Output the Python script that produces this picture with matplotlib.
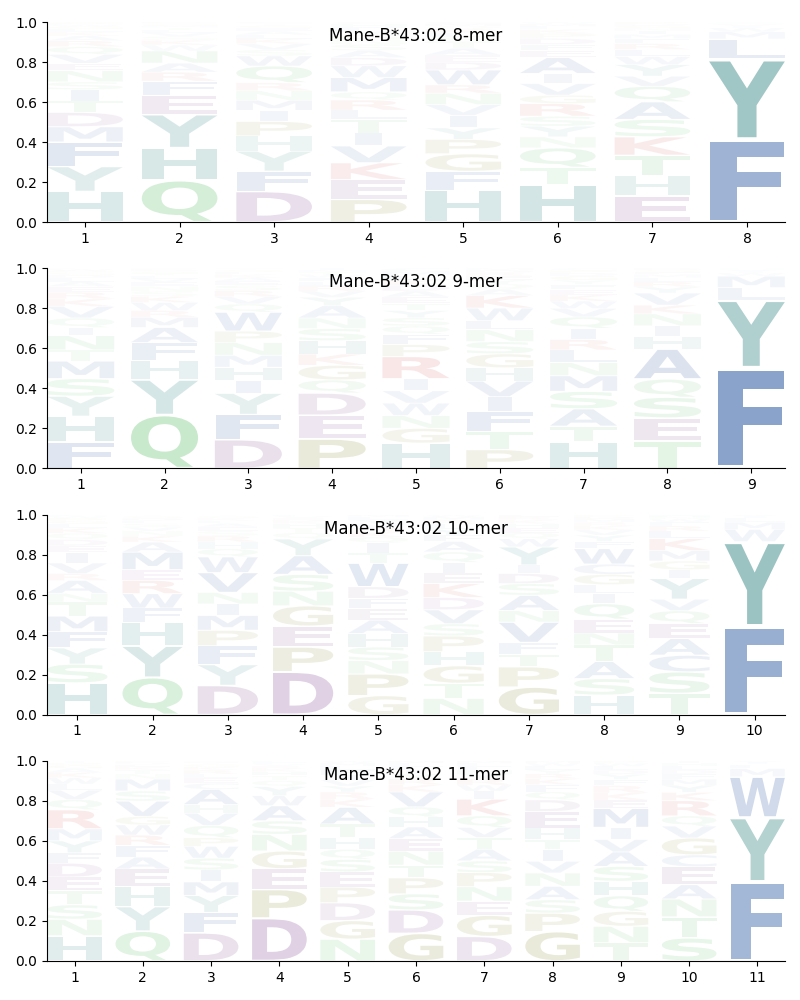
import matplotlib
matplotlib.use("Agg")
import matplotlib.pyplot as plt
from matplotlib.textpath import TextPath
from matplotlib.font_manager import FontProperties
from matplotlib.patches import PathPatch
from matplotlib.transforms import Affine2D

# letter heights per position, listed bottom -> top as seen in the logo
mer8 = [
    [("H", .157), ("Y", .128), ("F", .125), ("M", .078), ("D", .073), ("T", .058), ("I", .058), ("S", .040), ("N", .058), ("E", .037),
     ("V", .045), ("Q", .040), ("R", .030), ("A", .025), ("K", .020), ("L", .015), ("G", .013), ("W", .010), ("P", .008), ("C", .005)],
    [("Q", .220), ("H", .170), ("Y", .175), ("E", .100), ("F", .075), ("R", .047), ("A", .047), ("N", .065), ("W", .030), ("K", .025),
     ("S", .020), ("V", .020), ("L", .015), ("T", .012), ("M", .010), ("G", .008), ("P", .006), ("D", .005)],
    [("D", .153), ("F", .100), ("Y", .100), ("H", .075), ("P", .072), ("I", .055), ("M", .050), ("N", .047), ("R", .040), ("Q", .083),
     ("W", .050), ("S", .030), ("V", .030), ("K", .025), ("L", .020), ("A", .018), ("E", .015), ("G", .012), ("T", .010), ("C", .008)],
    [("P", .112), ("E", .097), ("K", .083), ("V", .083), ("I", .063), ("T", .067), ("L", .045), ("R", .050), ("Q", .040), ("M", .070),
     ("W", .058), ("D", .040), ("A", .035), ("S", .030), ("N", .025), ("G", .022), ("Y", .020), ("F", .018), ("H", .015), ("C", .010)],
    [("H", .162), ("F", .095), ("G", .088), ("P", .073), ("Y", .058), ("I", .062), ("V", .055), ("N", .058), ("R", .042), ("W", .075),
     ("D", .040), ("E", .035), ("A", .035), ("T", .030), ("S", .025), ("L", .022), ("K", .020), ("Q", .015), ("M", .012), ("C", .008)],
    [("H", .187), ("T", .087), ("Q", .097), ("N", .055), ("Y", .053), ("S", .050), ("R", .063), ("G", .042), ("V", .058), ("I", .050),
     ("A", .080), ("E", .035), ("F", .030), ("D", .030), ("P", .025), ("K", .020), ("L", .015), ("M", .012), ("W", .010)],
    [("E", .132), ("H", .100), ("T", .103), ("K", .092), ("S", .087), ("A", .088), ("Q", .078), ("V", .050), ("Y", .058), ("W", .040),
     ("L", .035), ("R", .030), ("F", .025), ("M", .020), ("I", .018), ("N", .015), ("G", .012), ("D", .010), ("P", .008)],
    [("F", .410), ("Y", .400), ("L", .100), ("M", .035), ("W", .020), ("I", .010), ("V", .008), ("H", .006), ("A", .005)],
]

mer9 = [
    [("F", .140), ("H", .133), ("Y", .105), ("S", .092), ("M", .092), ("T", .058), ("N", .075), ("I", .042), ("Q", .050), ("V", .060),
     ("K", .040), ("R", .035), ("E", .030), ("A", .025), ("L", .020), ("D", .015), ("G", .012), ("P", .010), ("W", .008), ("C", .005)],
    [("Q", .265), ("Y", .173), ("H", .095), ("F", .088), ("A", .075), ("M", .050), ("R", .033), ("W", .040), ("K", .030), ("S", .025),
     ("N", .025), ("E", .020), ("V", .018), ("L", .015), ("T", .012), ("G", .010), ("D", .008), ("P", .006)],
    [("D", .140), ("F", .122), ("Y", .103), ("I", .063), ("H", .063), ("M", .058), ("N", .062), ("P", .055), ("W", .092), ("Q", .040),
     ("V", .035), ("R", .030), ("S", .025), ("E", .020), ("A", .018), ("K", .015), ("L", .012), ("G", .010), ("T", .008)],
    [("P", .140), ("E", .113), ("D", .105), ("Q", .062), ("G", .070), ("K", .053), ("H", .063), ("S", .058), ("N", .050), ("A", .058),
     ("Y", .040), ("V", .030), ("R", .025), ("L", .020), ("F", .018), ("W", .015), ("T", .012), ("M", .010), ("I", .008)],
    [("H", .123), ("G", .072), ("N", .062), ("W", .060), ("V", .060), ("I", .058), ("R", .108), ("P", .058), ("F", .050), ("Q", .040),
     ("S", .040), ("Y", .035), ("T", .035), ("E", .030), ("A", .030), ("D", .028), ("K", .025), ("L", .022), ("M", .020), ("C", .015)],
    [("P", .090), ("T", .088), ("F", .092), ("I", .072), ("V", .075), ("H", .063), ("G", .067), ("S", .058), ("N", .058), ("L", .042),
     ("W", .060), ("K", .060), ("A", .030), ("Q", .025), ("Y", .020), ("E", .018), ("R", .015), ("D", .012), ("M", .010)],
    [("H", .127), ("T", .075), ("A", .083), ("S", .083), ("M", .075), ("N", .063), ("L", .060), ("R", .050), ("I", .053), ("Q", .055),
     ("V", .040), ("W", .035), ("K", .030), ("E", .025), ("F", .025), ("Y", .020), ("G", .020), ("D", .015), ("P", .012), ("C", .010)],
    [("T", .132), ("E", .112), ("S", .100), ("Q", .088), ("A", .145), ("H", .062), ("I", .050), ("N", .058), ("K", .042), ("V", .058),
     ("Y", .030), ("R", .025), ("L", .020), ("M", .015), ("F", .012), ("G", .010), ("D", .008)],
    [("F", .500), ("Y", .337), ("L", .062), ("M", .057), ("W", .015), ("I", .010), ("V", .008), ("H", .006)],
]

mer10 = [
    [("H", .153), ("S", .090), ("Y", .078), ("F", .078), ("M", .075), ("T", .067), ("N", .042), ("A", .062), ("R", .033), ("V", .050),
     ("I", .050), ("E", .033), ("D", .030), ("Q", .030), ("K", .025), ("L", .020), ("G", .015), ("P", .012), ("W", .010), ("C", .008)],
    [("Q", .187), ("Y", .157), ("H", .117), ("F", .073), ("W", .072), ("R", .067), ("E", .053), ("M", .088), ("A", .050), ("K", .030),
     ("N", .025), ("V", .020), ("S", .018), ("L", .015), ("D", .012), ("G", .010), ("T", .008)],
    [("D", .148), ("Y", .105), ("F", .095), ("P", .078), ("M", .075), ("I", .058), ("N", .058), ("V", .100), ("W", .080), ("Q", .040),
     ("H", .035), ("R", .030), ("S", .025), ("E", .020), ("A", .018), ("L", .015), ("K", .012), ("G", .010), ("T", .008)],
    [("D", .212), ("P", .122), ("E", .103), ("G", .100), ("N", .072), ("S", .083), ("A", .092), ("Y", .083), ("Q", .030), ("T", .025),
     ("H", .020), ("K", .015), ("R", .012), ("V", .010), ("L", .008)],
    [("G", .095), ("P", .108), ("N", .067), ("S", .067), ("H", .067), ("A", .067), ("E", .058), ("F", .050), ("D", .058), ("W", .117),
     ("T", .050), ("I", .050), ("Q", .030), ("K", .025), ("R", .022), ("V", .020), ("Y", .018), ("L", .015), ("M", .012)],
    [("N", .078), ("T", .072), ("G", .083), ("H", .067), ("P", .075), ("S", .058), ("V", .067), ("D", .058), ("K", .067), ("E", .050),
     ("I", .050), ("Q", .050), ("A", .050), ("F", .030), ("Y", .028), ("L", .025), ("R", .020), ("M", .015), ("W", .010)],
    [("G", .137), ("P", .100), ("T", .063), ("F", .058), ("V", .100), ("N", .058), ("A", .075), ("S", .058), ("D", .050), ("I", .042),
     ("Y", .090), ("W", .040), ("Q", .030), ("E", .025), ("H", .020), ("K", .018), ("R", .015), ("L", .012)],
    [("H", .095), ("S", .080), ("A", .083), ("T", .080), ("N", .058), ("E", .067), ("Q", .075), ("I", .050), ("L", .042), ("G", .050),
     ("C", .050), ("W", .075), ("F", .035), ("Y", .030), ("V", .025), ("K", .020), ("R", .018), ("M", .015), ("D", .012), ("P", .010)],
    [("T", .103), ("S", .103), ("C", .080), ("A", .080), ("E", .072), ("Q", .062), ("V", .055), ("Y", .100), ("I", .042), ("G", .042),
     ("M", .050), ("K", .058), ("L", .035), ("R", .025), ("F", .018), ("W", .015), ("N", .012), ("H", .010)],
    [("F", .433), ("Y", .417), ("W", .060), ("M", .035), ("L", .020), ("I", .010), ("V", .008)],
]

mer11 = [
    [("H", .122), ("N", .080), ("S", .070), ("T", .067), ("E", .067), ("D", .067), ("F", .050), ("Y", .058), ("M", .058), ("R", .092),
     ("Q", .050), ("V", .045), ("L", .030), ("W", .030), ("K", .025), ("A", .020), ("G", .015), ("P", .012), ("I", .010)],
    [("Q", .147), ("Y", .120), ("H", .097), ("E", .088), ("A", .058), ("F", .058), ("R", .050), ("W", .050), ("G", .042), ("V", .075),
     ("S", .050), ("M", .058), ("N", .025), ("T", .020), ("K", .015), ("L", .012), ("D", .010), ("P", .008)],
    [("D", .138), ("F", .100), ("Y", .083), ("M", .067), ("I", .058), ("S", .058), ("W", .058), ("P", .042), ("Q", .060), ("V", .060),
     ("H", .042), ("A", .075), ("C", .030), ("E", .025), ("L", .020), ("R", .020), ("K", .015), ("G", .012), ("T", .010), ("N", .008)],
    [("D", .213), ("P", .142), ("E", .103), ("G", .088), ("N", .083), ("S", .067), ("A", .075), ("W", .050), ("Y", .045), ("Q", .030),
     ("T", .025), ("H", .020), ("K", .015), ("R", .012), ("V", .010), ("F", .008), ("L", .008)],
    [("N", .108), ("G", .092), ("D", .088), ("P", .078), ("E", .075), ("S", .062), ("Q", .050), ("H", .058), ("T", .067), ("A", .083),
     ("K", .040), ("R", .035), ("Y", .030), ("V", .030), ("I", .025), ("F", .025), ("L", .020), ("M", .015), ("W", .010)],
    [("G", .138), ("D", .117), ("S", .080), ("P", .080), ("T", .063), ("N", .070), ("E", .063), ("A", .058), ("H", .050), ("Q", .050),
     ("V", .075), ("K", .035), ("R", .030), ("Y", .025), ("I", .020), ("F", .018), ("L", .015), ("M", .012)],
    [("D", .122), ("G", .105), ("E", .070), ("N", .072), ("P", .070), ("S", .058), ("A", .058), ("T", .058), ("V", .050), ("Q", .058),
     ("K", .083), ("I", .040), ("W", .030), ("R", .030), ("Y", .025), ("H", .020), ("F", .018), ("L", .015), ("M", .012)],
    [("G", .147), ("P", .092), ("S", .067), ("A", .067), ("N", .067), ("V", .058), ("I", .058), ("T", .050), ("H", .058), ("E", .083),
     ("D", .058), ("Q", .040), ("F", .035), ("K", .030), ("R", .025), ("Y", .020), ("L", .018), ("W", .015), ("M", .012)],
    [("T", .088), ("N", .080), ("G", .072), ("Q", .075), ("H", .070), ("S", .072), ("A", .070), ("V", .060), ("I", .058), ("M", .092),
     ("E", .040), ("K", .035), ("R", .035), ("F", .030), ("Y", .025), ("D", .020), ("L", .018), ("W", .015), ("P", .012)],
    [("S", .113), ("T", .103), ("N", .088), ("A", .070), ("E", .088), ("C", .058), ("G", .083), ("V", .058), ("Q", .050), ("R", .075),
     ("K", .040), ("Y", .035), ("M", .030), ("F", .025), ("D", .020), ("L", .018), ("H", .015), ("I", .012)],
    [("F", .388), ("Y", .317), ("W", .200), ("M", .040), ("L", .020), ("I", .010), ("V", .008)],
]

panels = [(mer8, "Mane-B*43:02 8-mer"), (mer9, "Mane-B*43:02 9-mer"),
          (mer10, "Mane-B*43:02 10-mer"), (mer11, "Mane-B*43:02 11-mer")]

# residue groups -> colour
groups = {
    "AVLIMFWC": (0.30, 0.45, 0.69),
    "HY": (0.29, 0.58, 0.57),
    "NQST": (0.40, 0.76, 0.44),
    "DE": (0.57, 0.37, 0.62),
    "PG": (0.58, 0.58, 0.27),
    "KR": (0.85, 0.35, 0.35),
}
colors = {aa: c for k, c in groups.items() for aa in k}

fp = FontProperties(family="DejaVu Sans", weight="bold")
e_width = TextPath((0, 0), "E", size=1, prop=fp).get_extents().width
glyph_w = 0.8
vpad = 0.06


def draw_glyph(ax, aa, x, y0, h):
    path = TextPath((0, 0), aa, size=1, prop=fp)
    bb = path.get_extents()
    sx = glyph_w / max(bb.width, e_width)
    sy = h * (1 - vpad) / bb.height
    left = x - bb.width * sx / 2
    tr = Affine2D().translate(-bb.x0, -bb.y0).scale(sx, sy).translate(left, y0 + h * vpad / 2)
    alpha = min(1.0, 1.3 * h)
    ax.add_patch(PathPatch(tr.transform_path(path), facecolor=colors[aa],
                           edgecolor="none", alpha=alpha))


fig, axes = plt.subplots(4, 1, figsize=(8, 10), dpi=100)
fig.subplots_adjust(left=0.059, right=0.981, top=0.978, bottom=0.039, hspace=0.23)

for ax, (cols, title) in zip(axes, panels):
    for i, col in enumerate(cols):
        total = sum(v for _, v in col)
        y = 0.0
        for aa, v in col:
            h = v / total
            draw_glyph(ax, aa, i + 1, y, h)
            y += h
    n = len(cols)
    ax.set_xlim(0.6, n + 0.4)
    ax.set_ylim(0, 1)
    ax.set_xticks(range(1, n + 1))
    ax.set_yticks([0, 0.2, 0.4, 0.6, 0.8, 1.0])
    ax.spines["top"].set_visible(False)
    ax.spines["right"].set_visible(False)
    ax.text(0.5, 0.93, title, transform=ax.transAxes, ha="center", va="center", fontsize=12)

fig.savefig("out.png")
